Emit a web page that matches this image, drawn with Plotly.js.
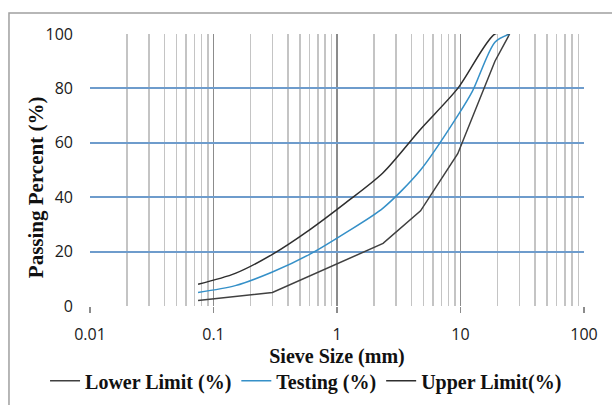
<!DOCTYPE html>
<html>
<head>
<meta charset="utf-8">
<script src="https://cdn.plot.ly/plotly-3.0.1.min.js"></script>
<style>html,body{margin:0;padding:0;background:#fff;}#chart{width:612px;height:405px;}</style>
</head>
<body>
<div id="chart"></div>
<script>
// Sieve sizes (mm) and passing percentages
var sieveLower = [0.075, 0.3, 2.36, 4.75, 9.5, 19, 25];
var lowerLimit = [2, 5, 23, 35, 56, 90, 100];

var sieveTesting = [0.075, 0.15, 0.3, 0.6, 1.18, 2.36, 4.75, 9.5, 12.5, 19, 25];
var testing = [5, 7.5, 12.5, 19, 27, 36, 50, 70, 79, 97, 100];

var sieveUpper = [0.075, 0.15, 0.3, 0.6, 1.18, 2.36, 4.75, 9.5, 19, 25];
var upperLimit = [8, 12, 19, 28, 38, 49, 65, 80, 100, 100];

var xTickVals = [0.01, 0.1, 1, 10, 100];
var xTickText = ['0.01', '0.1', '1', '10', '100'];
var yTickVals = [0, 20, 40, 60, 80, 100];

var seriesNames = ['Lower Limit (%)', 'Testing (%)', 'Upper Limit(%)'];
var xTitle = 'Sieve Size (mm)';
var yTitle = 'Passing Percent (%)';

var traces = [
  {x: sieveLower, y: lowerLimit, name: seriesNames[0], mode: 'lines', type: 'scatter',
   line: {color: '#404040', width: 1.5, shape: 'linear'}},
  {x: sieveTesting, y: testing, name: seriesNames[1], mode: 'lines', type: 'scatter',
   line: {color: '#3590c8', width: 1.5, shape: 'spline', smoothing: 0.8}},
  {x: sieveUpper, y: upperLimit, name: seriesNames[2], mode: 'lines', type: 'scatter',
   line: {color: '#2e2e2e', width: 1.5, shape: 'spline', smoothing: 0.8}}
];

var serifBold = {family: 'Liberation Serif, Times New Roman, serif', size: 20, color: '#111', weight: 'bold'};
var legendFont = {family: 'Liberation Serif, Times New Roman, serif', size: 20, color: '#111', weight: 'bold'};
var tickFont = {family: 'Open Sans, Liberation Sans, sans-serif', size: 16, color: '#1a1a1a'};

var layout = {
  width: 612, height: 405,
  margin: {l: 90, r: 28, t: 34, b: 99, autoexpand: false},
  paper_bgcolor: '#ffffff', plot_bgcolor: '#ffffff',
  showlegend: true,
  legend: {orientation: 'h', x: -0.091, xanchor: 'left', y: -0.275, yanchor: 'middle',
           font: legendFont, bgcolor: 'rgba(0,0,0,0)', itemwidth: 30, tracegroupgap: 0},
  xaxis: {
    type: 'log', range: [-2, 2], automargin: true,
    tickmode: 'array', tickvals: xTickVals, ticktext: xTickText,
    showgrid: true, gridcolor: '#8c8c8c', gridwidth: 1.5,
    minor: {tickmode: 'linear', dtick: 'D1', showgrid: true, gridcolor: '#c4c4c4', gridwidth: 1.5, ticks: ''},
    ticks: 'outside', ticklen: 6, tickcolor: '#8c8c8c', tickwidth: 1.5,
    ticklabelstandoff: 8,
    tickfont: tickFont,
    zeroline: false, showline: false,
    title: {text: xTitle, font: serifBold, standoff: 2}
  },
  yaxis: {
    range: [0, 100], tickmode: 'array', tickvals: yTickVals, automargin: false,
    showgrid: true, gridcolor: '#6e9ccc', gridwidth: 2,
    zeroline: false, showline: false, ticks: '',
    ticklabelstandoff: 16,
    tickfont: tickFont
  },
  annotations: [{
    text: yTitle, textangle: -90, xref: 'paper', yref: 'paper',
    x: -0.109, y: 0.4375, xanchor: 'center', yanchor: 'middle', showarrow: false,
    font: {family: 'Liberation Serif, Times New Roman, serif', size: 21, color: '#111', weight: 'bold'}
  }],
  shapes: [{
    type: 'rect', xref: 'paper', yref: 'paper',
    x0: -0.164, x1: 1.07, y0: -0.4, y1: 1.077,
    line: {color: '#a0a0a0', width: 1.5}, fillcolor: 'rgba(0,0,0,0)', layer: 'below'
  }]
};

Plotly.newPlot('chart', traces, layout, {displayModeBar: false, staticPlot: true});
</script>
</body>
</html>
